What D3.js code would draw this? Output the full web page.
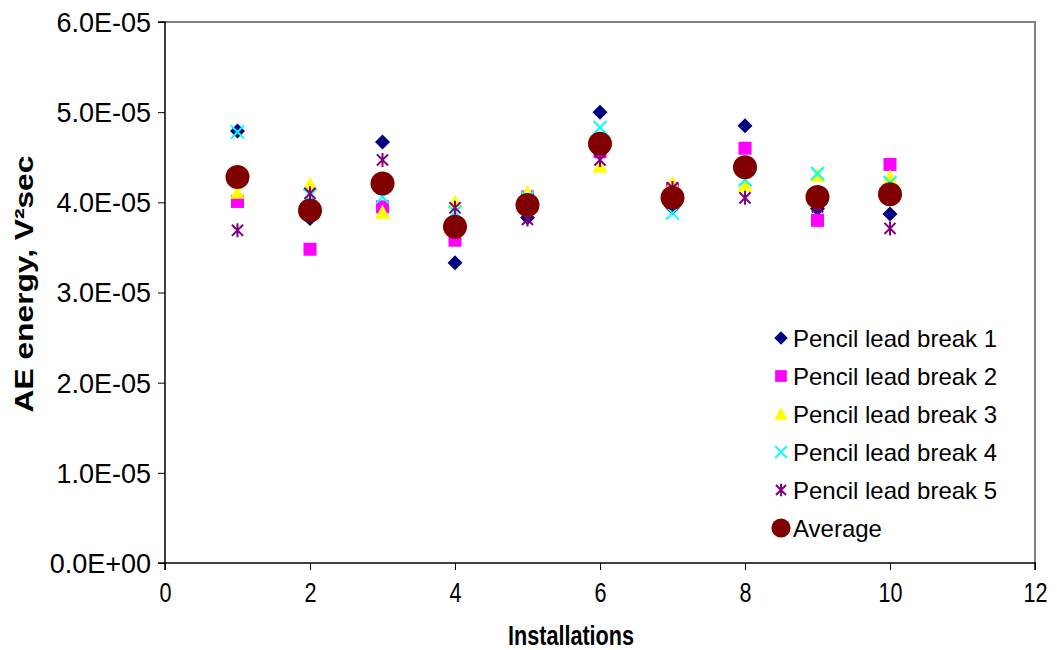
<!DOCTYPE html>
<html>
<head>
<meta charset="utf-8">
<script src="https://cdn.jsdelivr.net/npm/d3@7/dist/d3.min.js"></script>
<style>
  html, body { margin: 0; padding: 0; background: #fff; }
  svg { display: block; font-family: "Liberation Sans", Arial, sans-serif; }
</style>
</head>
<body>
<svg id="chart" width="1057" height="650"></svg>
<script>
// Installation number for each group of pencil lead breaks
const installations = [1, 2, 3, 4, 5, 6, 7, 8, 9, 10];

// AE energy (V²sec) per pencil lead break, one array per break
const break1 = [4.79e-5, 3.82e-5, 4.67e-5, 3.33e-5, 3.83e-5, 5.00e-5, 3.94e-5, 4.85e-5, 3.93e-5, 3.87e-5];
const break2 = [4.01e-5, 3.48e-5, 3.95e-5, 3.58e-5, 4.06e-5, 4.56e-5, 4.15e-5, 4.60e-5, 3.80e-5, 4.42e-5];
const break3 = [4.11e-5, 4.20e-5, 3.89e-5, 4.00e-5, 4.11e-5, 4.40e-5, 4.21e-5, 4.19e-5, 4.30e-5, 4.28e-5];
const break4 = [4.78e-5, 4.08e-5, 4.06e-5, 3.89e-5, 4.05e-5, 4.83e-5, 3.88e-5, 4.25e-5, 4.32e-5, 4.22e-5];
const break5 = [3.69e-5, 4.10e-5, 4.47e-5, 3.94e-5, 3.81e-5, 4.47e-5, 4.16e-5, 4.05e-5, 3.95e-5, 3.71e-5];
const average = [4.28e-5, 3.91e-5, 4.21e-5, 3.73e-5, 3.97e-5, 4.65e-5, 4.05e-5, 4.39e-5, 4.06e-5, 4.09e-5];

// Axis ticks
const xTicks = [0, 2, 4, 6, 8, 10, 12];
const yTicks = [0, 1e-5, 2e-5, 3e-5, 4e-5, 5e-5, 6e-5];
const yTickLabels = ["0.0E+00", "1.0E-05", "2.0E-05", "3.0E-05", "4.0E-05", "5.0E-05", "6.0E-05"];

const seriesNames = ["Pencil lead break 1", "Pencil lead break 2", "Pencil lead break 3",
                     "Pencil lead break 4", "Pencil lead break 5", "Average"];

const svg = d3.select("#chart");
const plot = { left: 165, right: 1035, top: 22, bottom: 563 };

const x = d3.scaleLinear().domain([0, 12]).range([plot.left, plot.right]);
const y = d3.scaleLinear().domain([0, 6e-5]).range([plot.bottom, plot.top]);

// Plot frame: grey top and right edges
svg.append("path")
  .attr("d", `M${plot.left},${plot.top}H${plot.right}V${plot.bottom}`)
  .attr("fill", "none").attr("stroke", "#808080").attr("stroke-width", 2);

// Axes
const yAxis = d3.axisLeft(y).tickValues(yTicks)
  .tickFormat((d, i) => yTickLabels[i]).tickSize(7).tickPadding(8);
const xAxis = d3.axisBottom(x).tickValues(xTicks).tickSize(7).tickPadding(8);

const gy = svg.append("g").attr("transform", `translate(${plot.left},0)`).call(yAxis);
const gx = svg.append("g").attr("transform", `translate(0,${plot.bottom})`).call(xAxis);

[gx, gy].forEach(g => {
  g.select(".domain").attr("stroke", "#000").attr("stroke-width", 1.5);
  g.selectAll(".tick line").attr("stroke", "#000").attr("stroke-width", 1);
  g.selectAll(".tick text").attr("fill", "#000")
    .attr("font-family", "'Liberation Sans', Arial, sans-serif");
});
gy.select(".domain").attr("d", `M-7,${plot.top}H0V${plot.bottom}H-7`);
gx.select(".domain").attr("d", `M${plot.left},7V0H${plot.right}V7`);

// y tick labels: right aligned against the ticks
gy.selectAll(".tick text").attr("font-size", 27).attr("x", -14).attr("dy", "0.35em");

// x tick labels: tall, narrow numerals
gx.selectAll(".tick text")
  .attr("font-size", 27).attr("y", 0).attr("dy", 0)
  .attr("transform", "translate(0,39) scale(0.8,1)");

// Axis titles
svg.append("text")
  .attr("transform", `translate(571,645) scale(0.8,1)`)
  .attr("text-anchor", "middle").attr("font-weight", "bold").attr("font-size", 27)
  .text("Installations");

svg.append("text")
  .attr("transform", `translate(33,284) rotate(-90) scale(1.22,1)`)
  .attr("text-anchor", "middle").attr("font-weight", "bold").attr("font-size", 26)
  .text("AE energy, V²sec");

// Marker shapes
const markers = [
  { fill: "#000080", kind: "diamond", r: 7.5 },
  { fill: "#FF00FF", kind: "square", r: 6.5 },
  { fill: "#FFFF00", kind: "triangle", r: 7.5 },
  { stroke: "#00FFFF", kind: "x", r: 6.5 },
  { stroke: "#800080", kind: "star", r: 7 },
  { fill: "#800000", kind: "circle", r: 12 }
];

function drawMarker(g, m, cx, cy, scale = 1) {
  const r = m.r * scale;
  if (m.kind === "x") {
    g.append("path")
      .attr("d", `M${cx - r},${cy - r}L${cx + r},${cy + r}M${cx - r},${cy + r}L${cx + r},${cy - r}`)
      .attr("stroke", m.stroke).attr("stroke-width", 2).attr("fill", "none");
  } else if (m.kind === "star") {
    const k = r * 0.8;
    g.append("path")
      .attr("d", `M${cx - k},${cy - k}L${cx + k},${cy + k}` +
                 `M${cx - k},${cy + k}L${cx + k},${cy - k}` +
                 `M${cx},${cy - r}L${cx},${cy + r}`)
      .attr("stroke", m.stroke).attr("stroke-width", 2).attr("fill", "none");
  } else if (m.kind === "circle") {
    g.append("circle").attr("cx", cx).attr("cy", cy).attr("r", r).attr("fill", m.fill);
  } else if (m.kind === "diamond") {
    g.append("path")
      .attr("d", `M${cx},${cy - r}L${cx + r},${cy}L${cx},${cy + r}L${cx - r},${cy}Z`)
      .attr("fill", m.fill);
  } else if (m.kind === "square") {
    g.append("rect").attr("x", cx - r).attr("y", cy - r)
      .attr("width", 2 * r).attr("height", 2 * r).attr("fill", m.fill);
  } else if (m.kind === "triangle") {
    g.append("path")
      .attr("d", `M${cx},${cy - r}L${cx + r},${cy + r * 0.85}L${cx - r},${cy + r * 0.85}Z`)
      .attr("fill", m.fill);
  }
}

// Data points
const allSeries = [break1, break2, break3, break4, break5, average];
const pts = svg.append("g");
allSeries.forEach((vals, s) => {
  const g = pts.append("g");
  vals.forEach((v, i) => drawMarker(g, markers[s], x(installations[i]), y(v)));
});

// Legend
const legend = svg.append("g");
seriesNames.forEach((name, i) => {
  const ly = 338 + i * 38;
  const g = legend.append("g");
  drawMarker(g, markers[i], 781, ly, i === 5 ? 0.8 : 0.9);
  g.append("text").attr("x", 793).attr("y", ly).attr("dy", "0.36em")
    .attr("font-size", 24).attr("fill", "#000").text(name);
});
</script>
</body>
</html>
